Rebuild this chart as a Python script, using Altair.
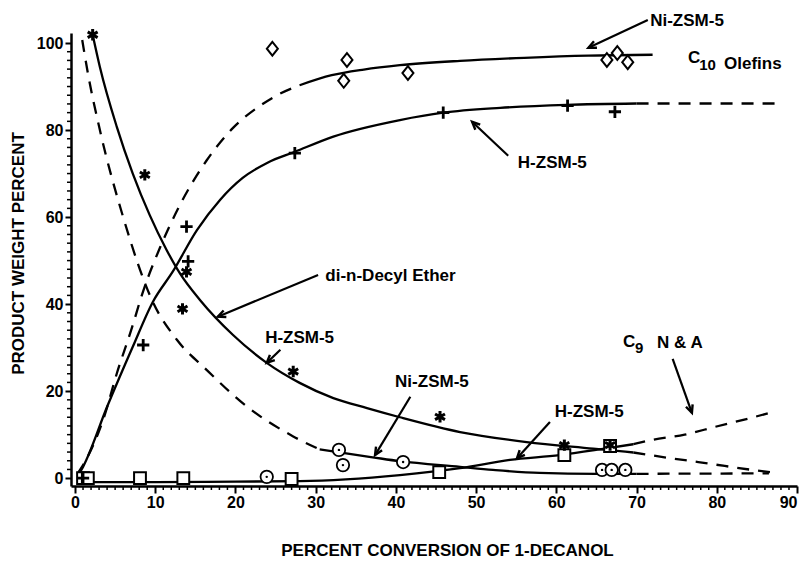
import math
import altair as alt
import pandas as pd

# ---------------- data ----------------
# markers
ether_h_x = [2.2, 8.7, 13.9, 13.4, 27.2, 45.5, 61.0, 66.7]
ether_h_y = [101.9, 69.7, 47.4, 38.9, 24.5, 14.1, 7.6, 7.6]
olef_h_x = [1.0, 8.5, 13.9, 14.1, 27.4, 45.9, 61.4, 67.3]
olef_h_y = [0.0, 30.6, 57.8, 49.8, 74.7, 84.0, 85.6, 84.2]
olef_ni_x = [24.6, 33.9, 33.5, 41.5, 66.3, 67.6, 68.9]
olef_ni_y = [98.7, 96.1, 91.3, 93.1, 96.1, 97.7, 95.6]
ether_ni_x = [23.9, 32.9, 33.4, 40.9, 65.7, 66.9, 68.6]
ether_ni_y = [0.3, 6.5, 3.0, 3.7, 1.9, 1.9, 1.9]
c9_h_x = [1.0, 1.6, 8.1, 13.5, 27.0, 45.4, 61.0, 66.7]
c9_h_y = [0.0, 0.0, 0.0, 0.0, -0.2, 1.4, 5.3, 7.4]

# curves (solid / dashed parts)
ni_olef_dash_x = [0.3, 1.6, 3.7, 5.2, 7.0, 8.5, 10.6, 13.0, 16.4, 19.7, 23.0, 25.5, 28.0]
ni_olef_dash_y = [1.0, 5.0, 14.5, 24.0, 34.0, 43.0, 53.0, 62.5, 73.0, 80.5, 85.5, 88.3, 90.3]
ni_olef_solid_x = [28.0, 32.0, 36.0, 40.5, 48.0, 56.0, 64.0, 72.0]
ni_olef_solid_y = [90.3, 92.6, 93.9, 94.9, 95.9, 96.6, 97.1, 97.3]

h_olef_solid_x = [0.5, 1.0, 4.0, 7.2, 9.7, 12.2, 15.2, 18.1, 20.9, 24.0, 27.4, 32.2, 40.5, 45.9, 53.0, 61.3, 70.0]
h_olef_solid_y = [1.0, 2.6, 16.4, 30.2, 40.5, 47.5, 57.0, 64.0, 69.0, 72.5, 75.0, 78.5, 82.3, 84.0, 85.1, 85.8, 86.1]
h_olef_dash_x = [70.0, 87.5]
h_olef_dash_y = [86.1, 86.1]

h_ether_solid_x = [2.2, 3.1, 5.2, 7.2, 9.3, 11.4, 13.1, 15.6, 19.7, 23.9, 28.0, 32.2, 36.4, 40.5, 48.0, 56.3, 64.6, 69.6]
h_ether_solid_y = [101.9, 94.5, 80.8, 70.0, 60.5, 52.5, 47.0, 40.9, 32.9, 26.5, 21.9, 18.4, 16.1, 14.0, 10.6, 8.3, 6.8, 5.9]
h_ether_dash_x = [69.6, 74.2, 77.7, 81.0, 84.4, 87.0]
h_ether_dash_y = [5.9, 4.6, 3.7, 2.8, 1.9, 1.3]

ni_ether_dash_x = [0.9, 1.6, 3.1, 6.0, 9.7, 12.7, 16.4, 21.4, 27.2, 30.5]
ni_ether_dash_y = [100.7, 93.1, 80.0, 60.0, 40.5, 31.8, 24.9, 16.5, 9.6, 6.6]
ni_ether_solid_x = [30.5, 37.1, 40.5, 48.0, 52.1, 57.9, 65.0, 70.0]
ni_ether_solid_y = [6.6, 4.8, 3.9, 2.6, 1.9, 1.2, 1.0, 1.0]
ni_ether_dash2_x = [70.0, 86.5]
ni_ether_dash2_y = [1.0, 1.1]

c9_solid_x = [0.4, 10.0, 20.0, 28.0, 40.5, 48.0, 54.2, 60.4, 65.4, 69.6]
c9_solid_y = [-0.9, -0.9, -0.8, -0.7, 0.7, 2.3, 4.2, 5.3, 6.6, 7.8]
c9_dash_x = [69.6, 72.0, 76.0, 79.8, 83.3, 87.4]
c9_dash_y = [7.8, 8.8, 10.0, 11.8, 13.4, 15.4]

# annotations
label_text = ["Ni-ZSM-5", "H-ZSM-5", "di-n-Decyl Ether", "H-ZSM-5", "Ni-ZSM-5", "H-ZSM-5"]
label_x = [71.7, 55.2, 31.2, 23.7, 39.9, 59.8]
label_y = [105.1, 72.5, 46.5, 32.2, 22.1, 15.2]

chem_text = ["C", "Olefins", "C", "N & A"]
chem_x = [76.4, 80.9, 68.3, 72.55]
chem_y = [96.6, 95.2, 31.3, 31.1]
sub_text = ["10", "9"]
sub_x = [77.8, 69.8]
sub_y = [95.0, 29.9]

arrow_x1 = [71.4, 54.0, 30.3, 25.6, 41.8, 59.2, 74.5]
arrow_y1 = [105.3, 74.1, 46.7, 29.5, 18.7, 12.9, 27.4]
arrow_x2 = [64.0, 49.5, 17.8, 23.9, 37.4, 55.1, 76.9]
arrow_y2 = [98.9, 81.9, 37.1, 26.5, 5.3, 4.6, 15.0]

x_major = list(range(0, 91, 10))
x_minor = [v for v in range(0, 91) if v % 10]
y_major = list(range(0, 101, 20))
y_minor = [v for v in range(0, 101, 2) if v % 20]

# ---------------- layout ----------------
W, H = 726, 453
XDOM = [-0.5, 90]
YDOM = [-1.8, 102.3]
FONT = "Liberation Sans"
PXX = W / (XDOM[1] - XDOM[0])
PXY = H / (YDOM[1] - YDOM[0])

xs = alt.Scale(domain=XDOM, nice=False, zero=False)
ys = alt.Scale(domain=YDOM, nice=False, zero=False)

x_axis = alt.Axis(values=x_major, tickSize=7, tickWidth=2, domainWidth=2.5,
                  labelPadding=1, labelFontSize=16, labelFont=FONT,
                  labelFontWeight="bold", labelColor="black", grid=False,
                  orient="bottom", title="PERCENT CONVERSION OF 1-DECANOL",
                  titleX=376, titleY=69, titleAlign="center",
                  titleBaseline="alphabetic", titleFont=FONT, titleFontSize=17,
                  titleFontWeight="bold", titleColor="black",
                  domainColor="black", tickColor="black")
y_axis = alt.Axis(values=y_major, tickSize=6, tickWidth=2, domainWidth=2.5,
                  labelPadding=2, labelFontSize=16, labelFont=FONT,
                  labelFontWeight="bold", labelColor="black", grid=False,
                  orient="left", title="PRODUCT WEIGHT PERCENT",
                  titleX=-53, titleY=220, titleAngle=270, titleAlign="center",
                  titleBaseline="middle", titleFont=FONT, titleFontSize=17,
                  titleFontWeight="bold", titleColor="black",
                  domainColor="black", tickColor="black")


def X(field="x"):
    return alt.X(f"{field}:Q", scale=xs, axis=x_axis)


def Y(field="y"):
    return alt.Y(f"{field}:Q", scale=ys, axis=y_axis)


def df(xv, yv):
    return pd.DataFrame({"x": xv, "y": yv})


def lines(parts, dash):
    frames = []
    for i, (xv, yv) in enumerate(parts):
        d = df(xv, yv)
        d["s"] = i
        d["o"] = range(len(d))
        frames.append(d)
    data = pd.concat(frames, ignore_index=True)
    kw = dict(color="black", strokeWidth=2.3, interpolate="monotone")
    if dash:
        kw["strokeDash"] = [12, 9]
    return alt.Chart(data).mark_line(**kw).encode(
        x=X(), y=Y(), detail="s:N", order="o:Q")


layers = []

layers.append(lines([(ni_olef_solid_x, ni_olef_solid_y), (h_olef_solid_x, h_olef_solid_y),
                     (h_ether_solid_x, h_ether_solid_y), (ni_ether_solid_x, ni_ether_solid_y),
                     (c9_solid_x, c9_solid_y)], dash=False))
layers.append(lines([(ni_olef_dash_x, ni_olef_dash_y), (h_olef_dash_x, h_olef_dash_y),
                     (h_ether_dash_x, h_ether_dash_y), (ni_ether_dash_x, ni_ether_dash_y),
                     (ni_ether_dash2_x, ni_ether_dash2_y), (c9_dash_x, c9_dash_y)], dash=True))

ASTER = "M0,-1L0,1M-0.87,-0.5L0.87,0.5M-0.87,0.5L0.87,-0.5"
PLUS = "M-1,0L1,0M0,-1L0,1"
DIAM = "M0,-1L0.8,0L0,1L-0.8,0Z"

layers.append(alt.Chart(df(c9_h_x, c9_h_y)).mark_point(
    shape="square", filled=True, fill="white", stroke="black", strokeWidth=2,
    size=140, opacity=1).encode(x=X(), y=Y()))
layers.append(alt.Chart(df(ether_ni_x, ether_ni_y)).mark_point(
    shape="circle", filled=True, fill="white", stroke="black", strokeWidth=1.8,
    size=155, opacity=1).encode(x=X(), y=Y()))
layers.append(alt.Chart(df(ether_ni_x, ether_ni_y)).mark_point(
    shape="circle", filled=True, color="black", size=6, opacity=1).encode(x=X(), y=Y()))
layers.append(alt.Chart(df(olef_ni_x, olef_ni_y)).mark_point(
    shape=DIAM, filled=True, fill="white", stroke="black", strokeWidth=2,
    size=190, opacity=1).encode(x=X(), y=Y()))
layers.append(alt.Chart(df(olef_h_x, olef_h_y)).mark_point(
    shape=PLUS, filled=False, color="black", strokeWidth=2.8,
    size=150, opacity=1).encode(x=X(), y=Y()))
layers.append(alt.Chart(df(ether_h_x, ether_h_y)).mark_point(
    shape=ASTER, filled=False, color="black", strokeWidth=3,
    size=130, opacity=1).encode(x=X(), y=Y()))

# minor ticks along both axes: short stroke symbols placed through the scales
layers.append(alt.Chart(df(x_minor, [YDOM[0]] * len(x_minor))).mark_point(
    shape="M0,0L0,1", filled=False, color="black", strokeWidth=1.5,
    size=64, opacity=1).encode(x=X(), y=Y()))
layers.append(alt.Chart(df([XDOM[0]] * len(y_minor), y_minor)).mark_point(
    shape="M0,0L-1,0", filled=False, color="black", strokeWidth=1.5,
    size=64, opacity=1).encode(x=X(), y=Y()))

# arrows
ang = []
for a, b, c, d in zip(arrow_x1, arrow_y1, arrow_x2, arrow_y2):
    dx = (c - a) * PXX
    dy = -(d - b) * PXY
    ang.append(math.degrees(math.atan2(dx, -dy)) % 360)
arr = pd.DataFrame({"x": arrow_x1, "y": arrow_y1, "x2": arrow_x2, "y2": arrow_y2,
                    "angle": ang})
layers.append(alt.Chart(arr).mark_rule(color="black", strokeWidth=2.2).encode(
    x=X(), y=Y(), x2="x2:Q", y2="y2:Q"))
layers.append(alt.Chart(arr).mark_point(
    shape="M-0.5,1.1L0,0L0.5,1.1", filled=False, color="black", strokeWidth=2.4,
    size=200, opacity=1).encode(x=X("x2"), y=Y("y2"),
                                angle=alt.Angle("angle:Q", scale=None)))

# texts
txt = dict(align="left", baseline="middle", font=FONT, fontWeight="bold", color="black")
layers.append(alt.Chart(pd.DataFrame({"x": label_x, "y": label_y, "t": label_text}))
              .mark_text(fontSize=17, **txt).encode(x=X(), y=Y(), text="t:N"))
layers.append(alt.Chart(pd.DataFrame({"x": chem_x, "y": chem_y, "t": chem_text}))
              .mark_text(fontSize=17, **txt).encode(x=X(), y=Y(), text="t:N"))
layers.append(alt.Chart(pd.DataFrame({"x": sub_x, "y": sub_y, "t": sub_text}))
              .mark_text(fontSize=15, **txt).encode(x=X(), y=Y(), text="t:N"))

chart = alt.layer(*layers).properties(
    width=W, height=H,
    autosize=alt.AutoSizeParams(type="none"),
    padding={"left": 63, "top": 25, "right": 2, "bottom": 75},
    background="white",
).configure_view(strokeWidth=0)

chart.save("out.html", embed_options={"renderer": "svg", "actions": False})
